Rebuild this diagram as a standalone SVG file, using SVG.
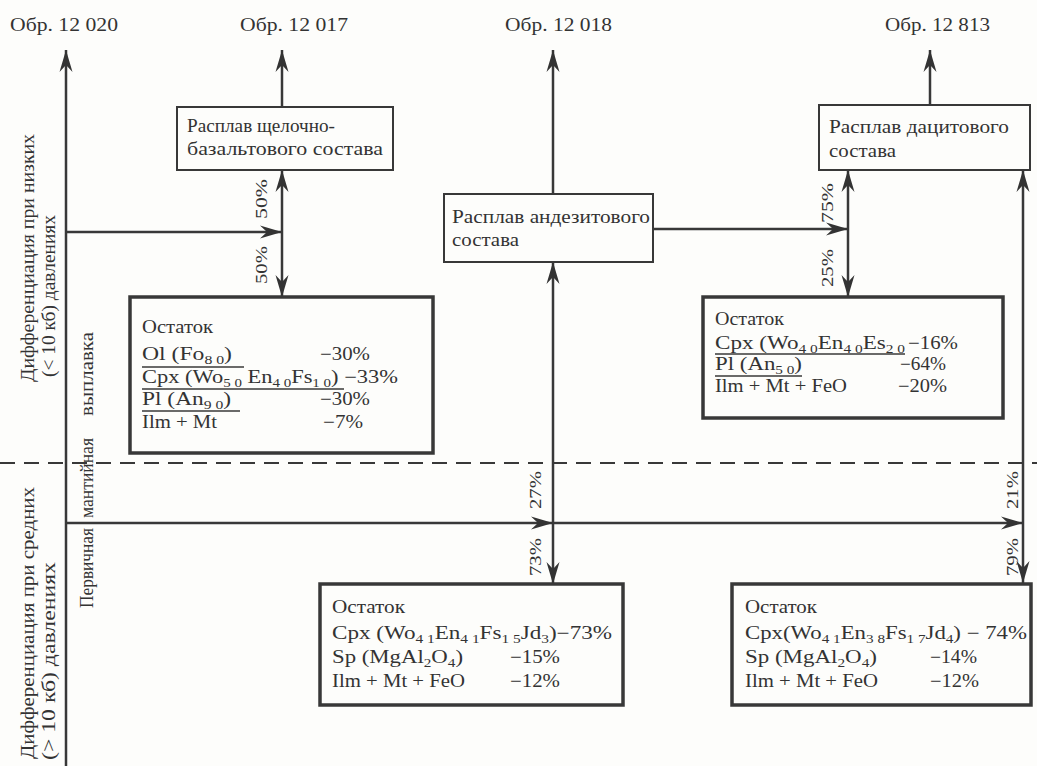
<svg xmlns="http://www.w3.org/2000/svg" width="1037" height="766" viewBox="0 0 1037 766">
<style>
.t{font-family:"Liberation Serif","Times New Roman",serif;font-size:18px;fill:#333}
.p{font-family:"Liberation Serif","Times New Roman",serif;font-size:17px;fill:#333}
.s{font-size:12px}
.ln{fill:none;stroke:#383838;stroke-width:2.5}
.bx{fill:#fdfdfb;stroke:#383838;stroke-width:2}
.bx2{fill:#fdfdfb;stroke:#383838;stroke-width:3.5}
.ul{stroke:#383838;stroke-width:1.5}
</style>
<defs>
<marker id="ah" viewBox="-24 -8 26 16" refX="0" refY="0" markerWidth="26" markerHeight="16" markerUnits="userSpaceOnUse" orient="auto-start-reverse">
<path d="M0,0 L-22,-6.5 L-15,0 L-22,6.5 Z" fill="#333"/>
</marker>
</defs>
<rect width="1037" height="766" fill="#fdfdfb"/>

<g id="labels">
<text class="t" x="10" y="31" textLength="108" lengthAdjust="spacingAndGlyphs">Обр. 12 020</text>
<text class="t" x="240" y="31" textLength="108" lengthAdjust="spacingAndGlyphs">Обр. 12 017</text>
<text class="t" x="505" y="31" textLength="107" lengthAdjust="spacingAndGlyphs">Обр. 12 018</text>
<text class="t" x="885" y="31" textLength="105" lengthAdjust="spacingAndGlyphs">Обр. 12 813</text>
<text class="t" transform="translate(34,258) rotate(-90)" text-anchor="middle" textLength="248" lengthAdjust="spacingAndGlyphs">Дифференциация при низких</text>
<text class="t" transform="translate(55,296) rotate(-90)" text-anchor="middle" textLength="162" lengthAdjust="spacingAndGlyphs">(&lt; 10 кб)  давлениях</text>
<text class="t" transform="translate(34,623) rotate(-90)" text-anchor="middle" textLength="272" lengthAdjust="spacingAndGlyphs">Дифференциация при средних</text>
<text class="t" transform="translate(55,661) rotate(-90)" text-anchor="middle" textLength="198" lengthAdjust="spacingAndGlyphs">(&gt; 10 кб)  давлениях</text>
<text class="t" transform="translate(93,374) rotate(-90)" text-anchor="middle" textLength="84" lengthAdjust="spacingAndGlyphs">выплавка</text>
<text class="t" transform="translate(93,478) rotate(-90)" text-anchor="middle" textLength="80" lengthAdjust="spacingAndGlyphs">мантийная</text>
<text class="t" transform="translate(93,568) rotate(-90)" text-anchor="middle" textLength="80" lengthAdjust="spacingAndGlyphs">Первичная</text>
<text class="p" transform="translate(267,199) rotate(-90)" text-anchor="middle" textLength="40" lengthAdjust="spacingAndGlyphs">50%</text>
<text class="p" transform="translate(267,265) rotate(-90)" text-anchor="middle" textLength="38" lengthAdjust="spacingAndGlyphs">50%</text>
<text class="p" transform="translate(833,203) rotate(-90)" text-anchor="middle" textLength="40" lengthAdjust="spacingAndGlyphs">75%</text>
<text class="p" transform="translate(833,268) rotate(-90)" text-anchor="middle" textLength="38" lengthAdjust="spacingAndGlyphs">25%</text>
<text class="p" transform="translate(541,490) rotate(-90)" text-anchor="middle" textLength="38" lengthAdjust="spacingAndGlyphs">27%</text>
<text class="p" transform="translate(541,557) rotate(-90)" text-anchor="middle" textLength="38" lengthAdjust="spacingAndGlyphs">73%</text>
<text class="p" transform="translate(1018,490) rotate(-90)" text-anchor="middle" textLength="38" lengthAdjust="spacingAndGlyphs">21%</text>
<text class="p" transform="translate(1018,557) rotate(-90)" text-anchor="middle" textLength="38" lengthAdjust="spacingAndGlyphs">79%</text>
</g>

<g id="connectors">
<path class="ln" d="M66,766 V50" marker-end="url(#ah)"/>
<path class="ln" d="M66,232 H282" marker-end="url(#ah)"/>
<path class="ln" d="M282,107 V50" marker-end="url(#ah)"/>
<path class="ln" d="M282,170 V297" marker-start="url(#ah)" marker-end="url(#ah)"/>
<path class="ln" d="M553,194 V50" marker-end="url(#ah)"/>
<path class="ln" d="M553,262 V584" marker-start="url(#ah)" marker-end="url(#ah)"/>
<path class="ln" d="M66,523 H553" marker-end="url(#ah)"/>
<path class="ln" d="M553,523 H1023" marker-end="url(#ah)"/>
<path class="ln" d="M653,229 H848" marker-end="url(#ah)"/>
<path class="ln" d="M848,170 V297" marker-start="url(#ah)" marker-end="url(#ah)"/>
<path class="ln" d="M930,105 V50" marker-end="url(#ah)"/>
<path class="ln" d="M1023,170 V583" marker-start="url(#ah)" marker-end="url(#ah)"/>
<path d="M0,463 H1037" fill="none" stroke="#383838" stroke-width="2" stroke-dasharray="15,9"/>
</g>

<g id="melt-basalt">
<rect class="bx" x="177" y="107" width="216" height="63"/>
<text class="t" x="187" y="132" textLength="148" lengthAdjust="spacingAndGlyphs">Расплав  щелочно-</text>
<text class="t" x="187" y="155" textLength="196" lengthAdjust="spacingAndGlyphs">базальтового  состава</text>
</g>

<g id="melt-andesite">
<rect class="bx" x="444" y="194" width="209" height="68"/>
<text class="t" x="452" y="223" textLength="198" lengthAdjust="spacingAndGlyphs">Расплав андезитового</text>
<text class="t" x="452" y="246" textLength="67" lengthAdjust="spacingAndGlyphs">состава</text>
</g>

<g id="melt-dacite">
<rect class="bx" x="819" y="105" width="211" height="65"/>
<text class="t" x="829" y="133" textLength="180" lengthAdjust="spacingAndGlyphs">Расплав дацитового</text>
<text class="t" x="829" y="157" textLength="67" lengthAdjust="spacingAndGlyphs">состава</text>
</g>

<g id="residue-1">
<rect class="bx2" x="130" y="297" width="303" height="156"/>
<text class="t" x="142" y="333" textLength="71" lengthAdjust="spacingAndGlyphs">Остаток</text>
<text class="t" x="142" y="360" textLength="90" lengthAdjust="spacingAndGlyphs">Ol (Fo<tspan class="s" dy="4">8 0</tspan><tspan dy="-4">)</tspan></text>
<line class="ul" x1="142" y1="367" x2="244" y2="367"/>
<text class="t" x="320" y="360" textLength="50" lengthAdjust="spacingAndGlyphs">−30%</text>
<text class="t" x="142" y="383" textLength="256" lengthAdjust="spacingAndGlyphs">Cpx (Wo<tspan class="s" dy="4">5 0</tspan><tspan dy="-4"> En</tspan><tspan class="s" dy="4">4 0</tspan><tspan dy="-4">Fs</tspan><tspan class="s" dy="4">1 0</tspan><tspan dy="-4">) −33%</tspan></text>
<line class="ul" x1="142" y1="389" x2="344" y2="389"/>
<text class="t" x="142" y="405" textLength="89" lengthAdjust="spacingAndGlyphs">Pl (An<tspan class="s" dy="4">9 0</tspan><tspan dy="-4">)</tspan></text>
<line class="ul" x1="142" y1="411" x2="240" y2="411"/>
<text class="t" x="320" y="405" textLength="50" lengthAdjust="spacingAndGlyphs">−30%</text>
<text class="t" x="142" y="428" textLength="75" lengthAdjust="spacingAndGlyphs">Ilm + Mt</text>
<text class="t" x="323" y="428" textLength="40" lengthAdjust="spacingAndGlyphs">−7%</text>
</g>

<g id="residue-2">
<rect class="bx2" x="703" y="297" width="300" height="121"/>
<text class="t" x="715" y="325" textLength="69" lengthAdjust="spacingAndGlyphs">Остаток</text>
<text class="t" x="715" y="349" textLength="190" lengthAdjust="spacingAndGlyphs">Cpx (Wo<tspan class="s" dy="4">4 0</tspan><tspan dy="-4">En</tspan><tspan class="s" dy="4">4 0</tspan><tspan dy="-4">Es</tspan><tspan class="s" dy="4">2 0</tspan></text>
<line class="ul" x1="715" y1="354" x2="905" y2="354"/>
<text class="t" x="908" y="349" textLength="50" lengthAdjust="spacingAndGlyphs">−16%</text>
<text class="t" x="715" y="370" textLength="87" lengthAdjust="spacingAndGlyphs">Pl (An<tspan class="s" dy="4">5 0</tspan><tspan dy="-4">)</tspan></text>
<line class="ul" x1="715" y1="376" x2="802" y2="376"/>
<text class="t" x="900" y="370" textLength="46" lengthAdjust="spacingAndGlyphs">−64%</text>
<text class="t" x="715" y="392" textLength="132" lengthAdjust="spacingAndGlyphs">Ilm + Mt + FeO</text>
<text class="t" x="898" y="392" textLength="49" lengthAdjust="spacingAndGlyphs">−20%</text>
</g>

<g id="residue-3">
<rect class="bx2" x="320" y="584" width="303" height="121"/>
<text class="t" x="332" y="613" textLength="73" lengthAdjust="spacingAndGlyphs">Остаток</text>
<text class="t" x="332" y="639" textLength="280" lengthAdjust="spacingAndGlyphs">Cpx (Wo<tspan class="s" dy="4">4 1</tspan><tspan dy="-4">En</tspan><tspan class="s" dy="4">4 1</tspan><tspan dy="-4">Fs</tspan><tspan class="s" dy="4">1 5</tspan><tspan dy="-4">Jd</tspan><tspan class="s" dy="4">3</tspan><tspan dy="-4">)−73%</tspan></text>
<text class="t" x="332" y="663" textLength="131" lengthAdjust="spacingAndGlyphs">Sp (MgAl<tspan class="s" dy="4">2</tspan><tspan dy="-4">O</tspan><tspan class="s" dy="4">4</tspan><tspan dy="-4">)</tspan></text>
<text class="t" x="510" y="663" textLength="50" lengthAdjust="spacingAndGlyphs">−15%</text>
<text class="t" x="332" y="687" textLength="133" lengthAdjust="spacingAndGlyphs">Ilm + Mt + FeO</text>
<text class="t" x="510" y="687" textLength="50" lengthAdjust="spacingAndGlyphs">−12%</text>
</g>

<g id="residue-4">
<rect class="bx2" x="732" y="584" width="299" height="121"/>
<text class="t" x="745" y="613" textLength="72" lengthAdjust="spacingAndGlyphs">Остаток</text>
<text class="t" x="745" y="639" textLength="282" lengthAdjust="spacingAndGlyphs">Cpx(Wo<tspan class="s" dy="4">4 1</tspan><tspan dy="-4">En</tspan><tspan class="s" dy="4">3 8</tspan><tspan dy="-4">Fs</tspan><tspan class="s" dy="4">1 7</tspan><tspan dy="-4">Jd</tspan><tspan class="s" dy="4">4</tspan><tspan dy="-4">) − 74%</tspan></text>
<text class="t" x="745" y="663" textLength="132" lengthAdjust="spacingAndGlyphs">Sp (MgAl<tspan class="s" dy="4">2</tspan><tspan dy="-4">O</tspan><tspan class="s" dy="4">4</tspan><tspan dy="-4">)</tspan></text>
<text class="t" x="930" y="663" textLength="47" lengthAdjust="spacingAndGlyphs">−14%</text>
<text class="t" x="745" y="687" textLength="133" lengthAdjust="spacingAndGlyphs">Ilm + Mt + FeO</text>
<text class="t" x="930" y="687" textLength="49" lengthAdjust="spacingAndGlyphs">−12%</text>
</g>
</svg>
